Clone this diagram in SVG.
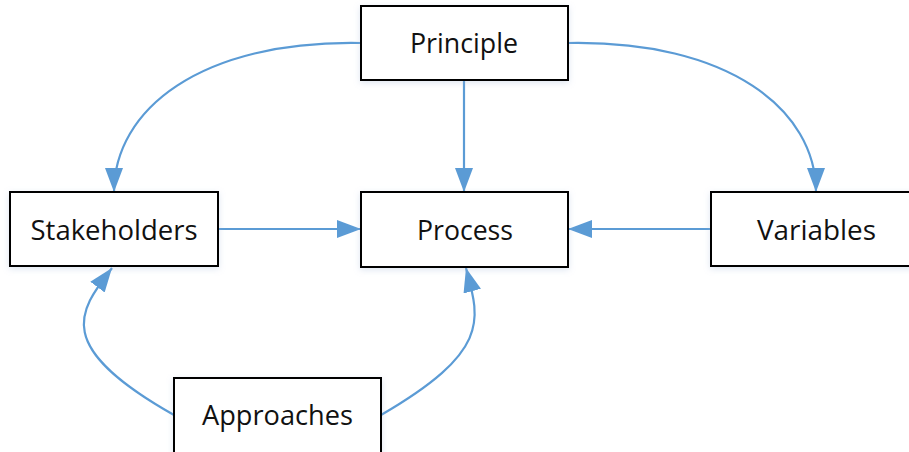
<svg xmlns="http://www.w3.org/2000/svg" width="909" height="452" viewBox="0 0 909 452">
<defs>
<style>
.box{fill:#ffffff;stroke:#000000;stroke-width:2;filter:url(#glow)}
.lbl{font-family:"Open Sans","Noto Sans","Liberation Sans",sans-serif;font-size:27px;fill:#111111;text-anchor:middle}
.conn{fill:none;stroke:#5B9BD5;stroke-width:2.2;marker-end:url(#arr)}
</style>
<filter id="glow" x="-10%" y="-20%" width="120%" height="140%">
<feDropShadow dx="0" dy="2" stdDeviation="3" flood-color="#9fb7d6" flood-opacity="0.35"/>
</filter>
<marker id="arr" markerUnits="userSpaceOnUse" markerWidth="26" markerHeight="20" refX="24" refY="9" orient="auto" viewBox="0 0 26 20">
<path d="M0,0 L24,9 L0,18 z" fill="#5B9BD5"/>
</marker>
</defs>
<rect width="909" height="452" fill="#ffffff"/>
<g id="connectors">
<path class="conn" d="M464,80 L464,192"/>
<path class="conn" d="M218,229 L361,229"/>
<path class="conn" d="M711,229 L568,229"/>
<path class="conn" d="M361,43 C200,40 114,110 114,192"/>
<path class="conn" d="M568,43 C729,40 816,110 816,192"/>
<path class="conn" d="M174,415 C50,345 80,310 112,268"/>
<path class="conn" d="M381,415 C491,351 480,320 466,268"/>
</g>
<g id="principle">
<rect class="box" x="361" y="6" width="207" height="74"/>
<text class="lbl" x="464" y="53" textLength="108" lengthAdjust="spacingAndGlyphs">Principle</text>
</g>
<g id="stakeholders">
<rect class="box" x="10" y="192" width="208" height="74"/>
<text class="lbl" x="114" y="240" textLength="167" lengthAdjust="spacingAndGlyphs">Stakeholders</text>
</g>
<g id="process">
<rect class="box" x="361" y="192" width="207" height="75"/>
<text class="lbl" x="465" y="240" textLength="96" lengthAdjust="spacingAndGlyphs">Process</text>
</g>
<g id="variables">
<rect class="box" x="711" y="192" width="211" height="74"/>
<text class="lbl" x="816.5" y="240" textLength="119" lengthAdjust="spacingAndGlyphs">Variables</text>
</g>
<g id="approaches">
<rect class="box" x="174" y="378" width="207" height="80"/>
<text class="lbl" x="277.5" y="425" textLength="151" lengthAdjust="spacingAndGlyphs">Approaches</text>
</g>
</svg>
